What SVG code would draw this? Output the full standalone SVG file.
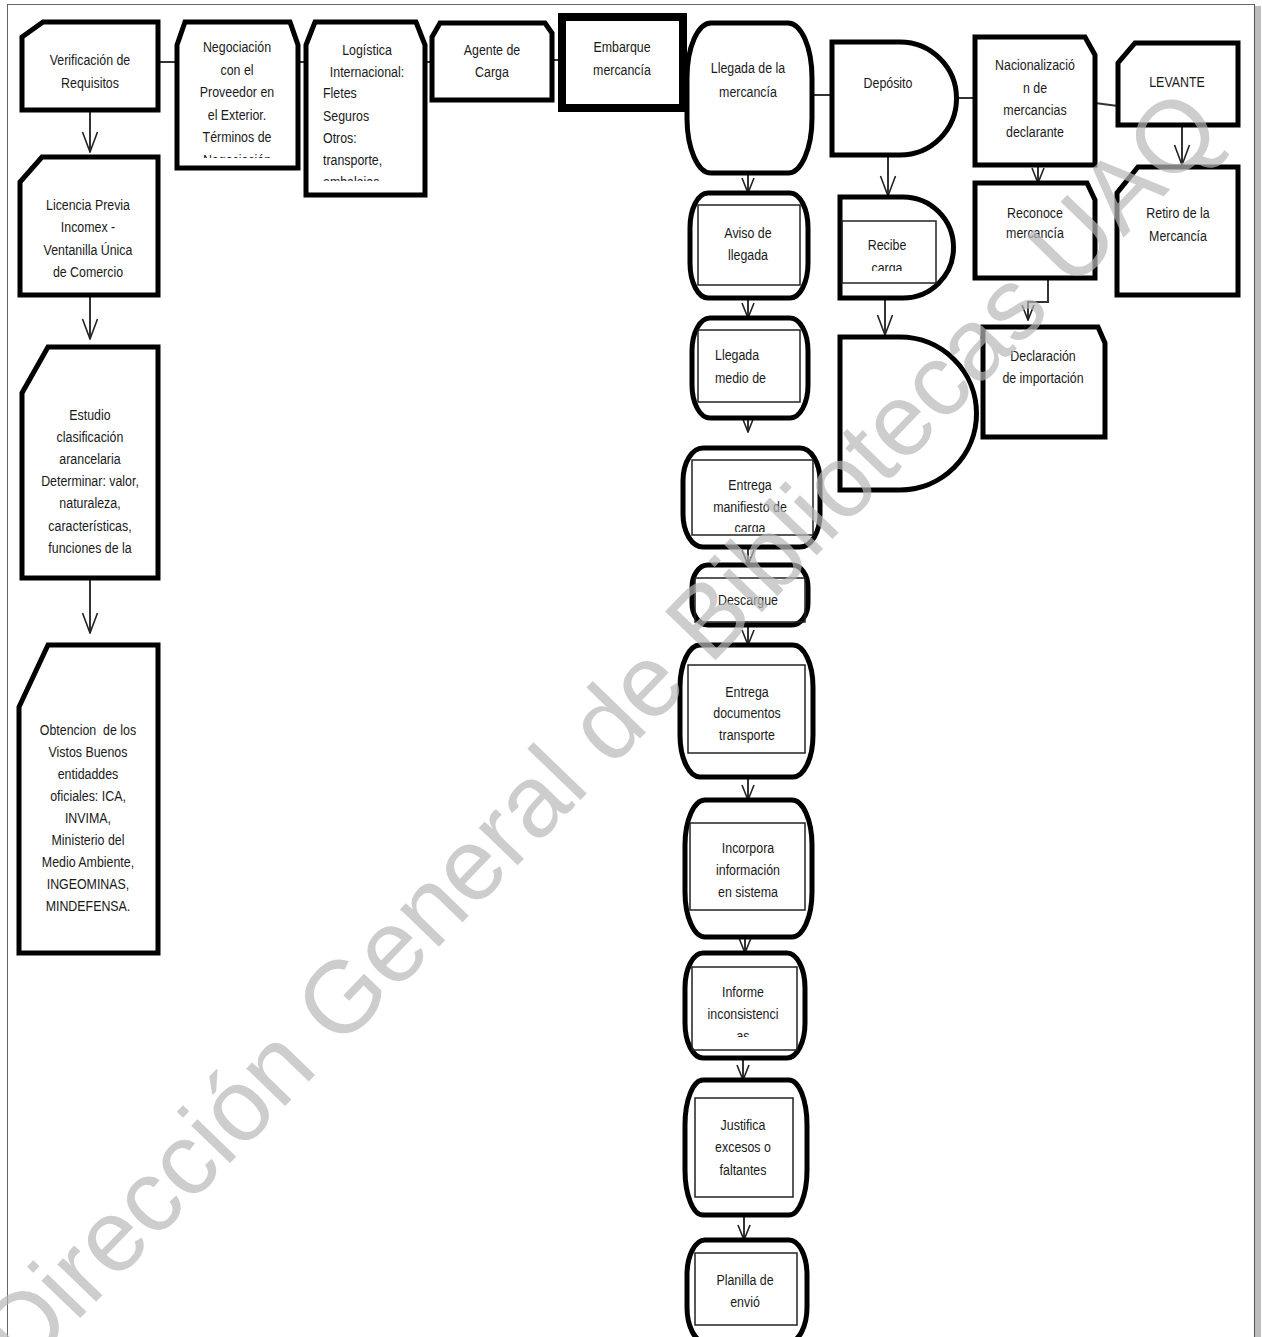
<svg xmlns="http://www.w3.org/2000/svg" width="1262" height="1337" viewBox="0 0 1262 1337">
<style>
.n{fill:#fff;stroke:#000;stroke-width:5;stroke-linejoin:miter}
.e{fill:#fff;stroke:#000;stroke-width:8}
.in{fill:none;stroke:#222;stroke-width:1.5}
.t{font-family:"Liberation Sans Narrow","Arial Narrow","Liberation Sans",sans-serif;font-size:15.5px;fill:#1a1a1a;text-anchor:middle}
.l{text-anchor:start}
.c{stroke:#333;stroke-width:2;fill:none}
.a{marker-end:url(#v)}
.s{marker-end:url(#vs)}
.wm{font-family:"Liberation Sans",sans-serif;font-size:102px;fill:#b8b8b8;fill-opacity:0.7;text-anchor:middle}
</style>
<defs>
<marker id="v" markerUnits="userSpaceOnUse" viewBox="-2 -9 23 18" refX="20" refY="0" markerWidth="23" markerHeight="18" orient="auto">
<path d="M0,-7.5 L20,0 L0,7.5" fill="none" stroke="#222" stroke-width="1.6"/>
</marker>
<marker id="vs" markerUnits="userSpaceOnUse" viewBox="-2 -8 18 16" refX="15" refY="0" markerWidth="18" markerHeight="16" orient="auto">
<path d="M0,-6 L15,0 L0,6" fill="none" stroke="#222" stroke-width="1.6"/>
</marker>
<clipPath id="cNeg"><rect x="177" y="22" width="121" height="136"/></clipPath>
<clipPath id="cLog"><rect x="306" y="22" width="119" height="159"/></clipPath>
<clipPath id="cRec"><rect x="840" y="197" width="120" height="74"/></clipPath>
<clipPath id="cMan"><rect x="683" y="448" width="140" height="84"/></clipPath>
<clipPath id="cInf"><rect x="685" y="953" width="120" height="84"/></clipPath>
</defs>

<rect x="0" y="0" width="1262" height="1337" fill="#fff"/>
<g id="page">
<line x1="7.5" y1="4" x2="7.5" y2="1337" stroke="#666" stroke-width="1"/>
<line x1="7" y1="4.5" x2="1255" y2="4.5" stroke="#666" stroke-width="1"/>
<rect x="1255" y="6" width="6" height="1331" fill="#bdbdbd"/>
<line x1="1254.5" y1="4" x2="1254.5" y2="1337" stroke="#555" stroke-width="1"/>
</g>

<g id="connectors">
<line class="c" x1="158" y1="62" x2="177" y2="62"/>
<line class="c" x1="298" y1="62" x2="306" y2="62"/>
<line class="c" x1="425" y1="62" x2="432" y2="62"/>
<line class="c" x1="552" y1="60" x2="562" y2="60"/>
<line class="c" x1="683" y1="57" x2="690" y2="57"/>
<line class="c" x1="812" y1="95" x2="832" y2="95"/>
<line class="c" x1="957" y1="98" x2="975" y2="98"/>
<line class="c" x1="1095" y1="103" x2="1118" y2="106"/>
<line class="c a" x1="90" y1="110" x2="90" y2="152"/>
<line class="c a" x1="90" y1="295" x2="90" y2="339"/>
<line class="c a" x1="90" y1="578" x2="90" y2="633"/>
<line class="c s" x1="748" y1="173" x2="748" y2="193"/>
<line class="c s" x1="748" y1="298" x2="748" y2="318"/>
<line class="c s" x1="748" y1="418" x2="748" y2="432"/>
<line class="c s" x1="748" y1="547" x2="748" y2="565"/>
<line class="c s" x1="748" y1="625" x2="748" y2="645"/>
<line class="c s" x1="748" y1="777" x2="748" y2="800"/>
<line class="c s" x1="745" y1="937" x2="745" y2="953"/>
<line class="c s" x1="743" y1="1058" x2="743" y2="1080"/>
<line class="c s" x1="744" y1="1215" x2="744" y2="1240"/>
<line class="c a" x1="888" y1="155" x2="888" y2="196"/>
<line class="c a" x1="885" y1="298" x2="885" y2="335"/>
<line class="c s" x1="1038" y1="165" x2="1038" y2="183"/>
<line class="c a" x1="1182" y1="125" x2="1182" y2="165"/>
<polyline class="c s" points="1048,280 1048,302 1028,302 1028,320"/>
</g>

<g id="n-verificacion">
<path class="n" d="M43,22 H158 V110 H22 V37 Z"/>
<g transform="matrix(0.8 0 0 1 18 0)">
<text class="t" x="90" y="65">Verificación de</text>
<text class="t" x="90" y="88">Requisitos</text>
</g>
</g>
<g id="n-licencia">
<path class="n" d="M42,157 H158 V295 H20 V182 Z"/>
<g transform="matrix(0.8 0 0 1 17.6 0)">
<text class="t" x="88" y="210">Licencia Previa</text>
<text class="t" x="88" y="232">Incomex -</text>
<text class="t" x="88" y="255">Ventanilla Única</text>
<text class="t" x="88" y="277">de Comercio</text>
</g>
</g>
<g id="n-estudio">
<path class="n" d="M48,347 H158 V578 H22 V393 Z"/>
<g transform="matrix(0.8 0 0 1 18 0)">
<text class="t" x="90" y="420">Estudio</text>
<text class="t" x="90" y="442">clasificación</text>
<text class="t" x="90" y="464">arancelaria</text>
<text class="t" x="90" y="486">Determinar: valor,</text>
<text class="t" x="90" y="508">naturaleza,</text>
<text class="t" x="90" y="531">características,</text>
<text class="t" x="90" y="553">funciones de la</text>
</g>
</g>
<g id="n-obtencion">
<path class="n" d="M48,645 H158 V953 H19 V707 Z"/>
<g transform="matrix(0.8 0 0 1 17.6 0)">
<text class="t" x="88" y="735" xml:space="preserve">Obtencion  de los</text>
<text class="t" x="88" y="757">Vistos Buenos</text>
<text class="t" x="88" y="779">entidaddes</text>
<text class="t" x="88" y="801">oficiales: ICA,</text>
<text class="t" x="88" y="823">INVIMA,</text>
<text class="t" x="88" y="845">Ministerio del</text>
<text class="t" x="88" y="867">Medio Ambiente,</text>
<text class="t" x="88" y="889">INGEOMINAS,</text>
<text class="t" x="88" y="911">MINDEFENSA.</text>
</g>
</g>

<g id="n-negociacion">
<path class="n" d="M177,45 L185,22 H290 L298,45 V168 H177 Z"/>
<g clip-path="url(#cNeg)">
<g transform="matrix(0.8 0 0 1 47.4 0)">
<text class="t" x="237" y="52">Negociación</text>
<text class="t" x="237" y="75">con el</text>
<text class="t" x="237" y="97">Proveedor en</text>
<text class="t" x="237" y="120">el Exterior.</text>
<text class="t" x="237" y="142">Términos de</text>
<text class="t" x="237" y="165">Negociación</text>
</g>
</g>
</g>
<g id="n-logistica">
<path class="n" d="M306,45 L315,22 H416 L425,45 V195 H306 Z"/>
<g clip-path="url(#cLog)">
<g transform="matrix(0.8 0 0 1 73.4 0)">
<text class="t" x="367" y="55">Logística</text>
<text class="t" x="367" y="77">Internacional:</text>
</g>
<g transform="matrix(0.8 0 0 1 64.6 0)">
<text class="t l" x="323" y="98">Fletes</text>
<text class="t l" x="323" y="121">Seguros</text>
<text class="t l" x="323" y="143">Otros:</text>
<text class="t l" x="323" y="165">transporte,</text>
<text class="t l" x="323" y="187">embalajes</text>
</g>
</g>
</g>
<g id="n-agente">
<path class="n" d="M432,37 L440,23 H545 L552,33 V100 H432 Z"/>
<g transform="matrix(0.8 0 0 1 98.4 0)">
<text class="t" x="492" y="55">Agente de</text>
<text class="t" x="492" y="77">Carga</text>
</g>
</g>
<g id="n-embarque">
<rect class="e" x="562" y="17" width="121" height="91"/>
<g transform="matrix(0.8 0 0 1 124.4 0)">
<text class="t" x="622" y="52">Embarque</text>
<text class="t" x="622" y="75">mercancía</text>
</g>
</g>
<g id="n-llegada">
<rect class="n" x="687" y="23" width="125" height="150" rx="24" ry="55"/>
<g transform="matrix(0.8 0 0 1 149.6 0)">
<text class="t" x="748" y="73">Llegada de la</text>
<text class="t" x="748" y="97">mercancía</text>
</g>
</g>
<g id="n-deposito">
<path class="n" d="M832,42 H900 A56.5,56.5 0 0 1 900,155 H832 Z"/>
<g transform="matrix(0.8 0 0 1 177.6 0)">
<text class="t" x="888" y="88">Depósito</text>
</g>
</g>
<g id="n-nacionalizacion">
<path class="n" d="M975,37 H1085 L1095,55 V165 H975 Z"/>
<g transform="matrix(0.8 0 0 1 207 0)">
<text class="t" x="1035" y="70">Nacionalizació</text>
<text class="t" x="1035" y="93">n de</text>
<text class="t" x="1035" y="115">mercancias</text>
<text class="t" x="1035" y="137">declarante</text>
</g>
</g>
<g id="n-levante">
<path class="n" d="M1135,43 H1238 V125 H1118 V63 Z"/>
<g transform="matrix(0.8 0 0 1 235.4 0)">
<text class="t" x="1177" y="87">LEVANTE</text>
</g>
</g>
<g id="n-retiro">
<path class="n" d="M1138,167 H1238 V295 H1117 V193 Z"/>
<g transform="matrix(0.8 0 0 1 235.6 0)">
<text class="t" x="1178" y="218">Retiro de la</text>
<text class="t" x="1178" y="241">Mercancía</text>
</g>
</g>
<g id="n-reconoce">
<path class="n" d="M975,183 H1087 L1095,200 V278 H975 Z"/>
<g transform="matrix(0.8 0 0 1 207 0)">
<text class="t" x="1035" y="218">Reconoce</text>
<text class="t" x="1035" y="238">mercancía</text>
</g>
</g>
<g id="n-declaracion">
<path class="n" d="M983,327 H1098 L1105,343 V437 H983 Z"/>
<g transform="matrix(0.8 0 0 1 208.6 0)">
<text class="t" x="1043" y="361">Declaración</text>
<text class="t" x="1043" y="383">de importación</text>
</g>
</g>
<g id="n-recibe">
<path class="n" d="M840,197 H903 A50.5,50.5 0 0 1 903,298 H840 Z"/>
<rect class="in" x="842" y="221" width="94" height="62"/>
<g clip-path="url(#cRec)">
<g transform="matrix(0.8 0 0 1 177.4 0)">
<text class="t" x="887" y="250">Recibe</text>
<text class="t" x="887" y="273">carga</text>
</g>
</g>
</g>
<g id="n-delay">
<path class="n" d="M840,337 H900 A76.5,76.5 0 0 1 900,490 H840 Z"/>
</g>

<g id="n-aviso">
<rect class="n" x="690" y="193" width="118" height="105" rx="18" ry="35"/>
<rect class="in" x="698" y="205" width="102" height="80"/>
<g transform="matrix(0.8 0 0 1 149.6 0)">
<text class="t" x="748" y="238">Aviso de</text>
<text class="t" x="748" y="260">llegada</text>
</g>
</g>
<g id="n-medio">
<rect class="n" x="692" y="318" width="116" height="100" rx="18" ry="33"/>
<rect class="in" x="698" y="330" width="102" height="72"/>
<g transform="matrix(0.8 0 0 1 143 0)">
<text class="t l" x="715" y="360">Llegada</text>
<text class="t l" x="715" y="383">medio de</text>
</g>
</g>
<g id="n-manifiesto">
<rect class="n" x="683" y="448" width="137" height="99" rx="20" ry="33"/>
<rect class="in" x="692" y="460" width="121" height="75"/>
<g clip-path="url(#cMan)">
<g transform="matrix(0.8 0 0 1 150 0)">
<text class="t" x="750" y="490">Entrega</text>
<text class="t" x="750" y="512">manifiesto de</text>
<text class="t" x="750" y="533">carga</text>
</g>
</g>
</g>
<g id="n-descargue">
<rect class="n" x="692" y="565" width="116" height="60" rx="16" ry="22"/>
<rect class="in" x="695" y="578" width="110" height="44"/>
<g transform="matrix(0.8 0 0 1 149.6 0)">
<text class="t" x="748" y="605">Descargue</text>
</g>
</g>
<g id="n-documentos">
<rect class="n" x="680" y="645" width="133" height="132" rx="20" ry="42"/>
<rect class="in" x="688" y="665" width="117" height="88"/>
<g transform="matrix(0.8 0 0 1 149.4 0)">
<text class="t" x="747" y="697">Entrega</text>
<text class="t" x="747" y="718">documentos</text>
<text class="t" x="747" y="740">transporte</text>
</g>
</g>
<g id="n-incorpora">
<rect class="n" x="685" y="800" width="127" height="137" rx="20" ry="45"/>
<rect class="in" x="690" y="823" width="115" height="87"/>
<g transform="matrix(0.8 0 0 1 149.6 0)">
<text class="t" x="748" y="853">Incorpora</text>
<text class="t" x="748" y="875">información</text>
<text class="t" x="748" y="897">en sistema</text>
</g>
</g>
<g id="n-informe">
<rect class="n" x="685" y="953" width="120" height="105" rx="18" ry="35"/>
<rect class="in" x="692" y="967" width="105" height="83"/>
<g clip-path="url(#cInf)">
<g transform="matrix(0.8 0 0 1 148.6 0)">
<text class="t" x="743" y="997">Informe</text>
<text class="t" x="743" y="1019">inconsistenci</text>
<text class="t" x="743" y="1041">as</text>
</g>
</g>
</g>
<g id="n-justifica">
<rect class="n" x="685" y="1080" width="122" height="135" rx="18" ry="45"/>
<rect class="in" x="695" y="1098" width="98" height="99"/>
<g transform="matrix(0.8 0 0 1 148.6 0)">
<text class="t" x="743" y="1130">Justifica</text>
<text class="t" x="743" y="1152">excesos o</text>
<text class="t" x="743" y="1175">faltantes</text>
</g>
</g>
<g id="n-planilla">
<rect class="n" x="687" y="1240" width="120" height="102" rx="18" ry="35"/>
<rect class="in" x="695" y="1253" width="102" height="72"/>
<g transform="matrix(0.8 0 0 1 149 0)">
<text class="t" x="745" y="1285">Planilla de</text>
<text class="t" x="745" y="1307">envió</text>
</g>
</g>

<g id="watermark">
<text class="wm" transform="translate(625,754) rotate(-46)" x="0" y="0">Dirección General de Bibliotecas UAQ</text>
</g>
</svg>
